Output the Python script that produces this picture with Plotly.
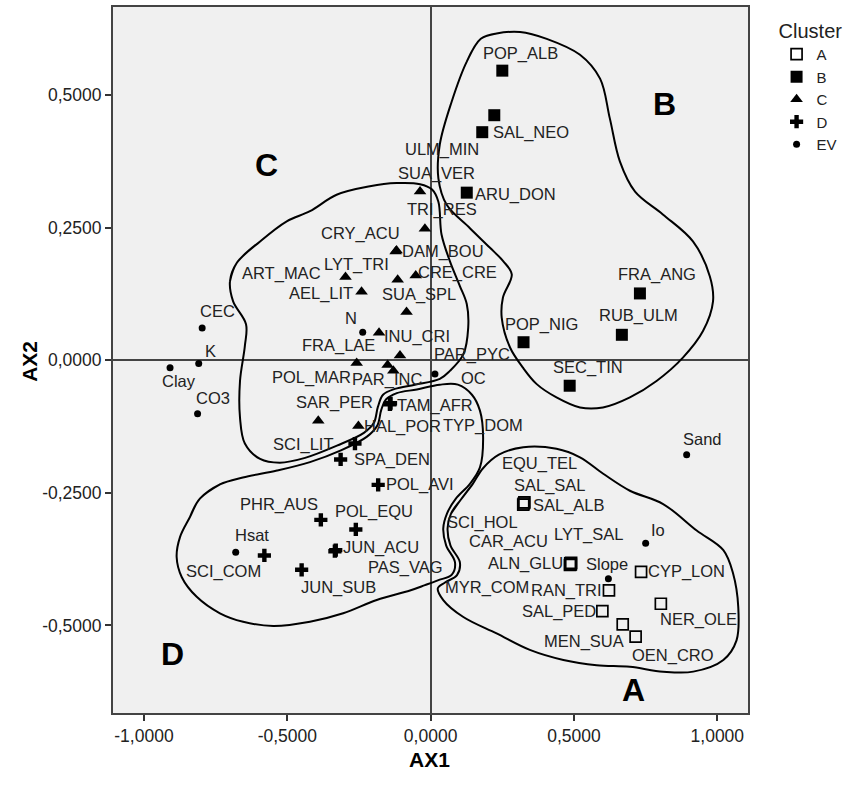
import plotly.graph_objects as go

# ---------------- data ----------------
species = ["POP_ALB", "ULM_MIN", "SAL_NEO", "ARU_DON", "FRA_ANG", "RUB_ULM", "POP_NIG", "SEC_TIN",
           "SUA_VER", "TRI_RES", "CRY_ACU", "DAM_BOU", "ART_MAC", "LYT_TRI", "CRE_CRE", "AEL_LIT",
           "SUA_SPL", "INU_CRI", "PAR_PYC", "FRA_LAE", "POL_MAR", "PAR_INC", "SAR_PER", "HAL_POR",
           "TAM_AFR", "TYP_DOM", "SCI_LIT", "SPA_DEN", "POL_AVI", "PHR_AUS", "POL_EQU", "JUN_ACU",
           "PAS_VAG", "SCI_COM", "JUN_SUB",
           "SAL_ALB", "EQU_TEL", "SAL_SAL", "ALN_GLU", "CAR_ACU", "LYT_SAL", "SCI_HOL", "MYR_COM",
           "CYP_LON", "RAN_TRI", "NER_OLE", "SAL_PED", "MEN_SUA", "OEN_CRO",
           "CEC", "K", "Clay", "CO3", "N", "OC", "Sand", "Io", "Slope", "Hsat"]

ax1 = [0.250, 0.222, 0.180, 0.126, 0.730, 0.667, 0.324, 0.485,
       -0.037, -0.020, -0.122, -0.119, -0.297, -0.115, -0.052, -0.241,
       -0.084, -0.180, -0.107, -0.258, -0.150, -0.130, -0.392, -0.252,
       -0.142, -0.140, -0.264, -0.314, -0.183, -0.383, -0.261, -0.334,
       -0.331, -0.580, -0.450,
       0.325, 0.327, 0.323, 0.488, 0.490, 0.486, 0.489, 0.487,
       0.734, 0.622, 0.803, 0.599, 0.670, 0.715,
       -0.797, -0.809, -0.909, -0.813, -0.237, 0.015, 0.893, 0.750, 0.620, -0.680]

ax2 = [0.546, 0.462, 0.430, 0.316, 0.126, 0.048, 0.034, -0.048,
       0.318, 0.248, 0.205, 0.207, 0.157, 0.152, 0.160, 0.129,
       0.091, 0.052, 0.009, -0.005, -0.009, -0.020, -0.114, -0.124,
       -0.083, -0.081, -0.157, -0.187, -0.235, -0.301, -0.319, -0.360,
       -0.358, -0.368, -0.395,
       -0.270, -0.268, -0.272, -0.384, -0.382, -0.386, -0.385, -0.383,
       -0.399, -0.434, -0.459, -0.473, -0.498, -0.521,
       0.061, -0.006, -0.014, -0.101, 0.053, -0.026, -0.178, -0.345, -0.412, -0.362]

cluster = (["B"] * 8) + (["C"] * 16) + (["D"] * 11) + (["A"] * 14) + (["EV"] * 10)

cluster_names = ["A", "B", "C", "D", "EV"]

x_tick_vals = [-1.0, -0.5, 0.0, 0.5, 1.0]
x_tick_text = ["-1,0000", "-0,5000", "0,0000", "0,5000", "1,0000"]
y_tick_vals = [-0.5, -0.25, 0.0, 0.25, 0.5]
y_tick_text = ["-0,5000", "-0,2500", "0,0000", "0,2500", "0,5000"]

# hand-drawn cluster outlines (data units)
outline_A_x = [0.105, 0.147, 0.182, 0.238, 0.323, 0.439, 0.521, 0.602, 0.695, 0.811, 0.928, 1.021, 1.055,
               1.073, 1.067, 1.021, 0.916, 0.811, 0.695, 0.579, 0.463, 0.346, 0.230, 0.114, 0.044, 0.025,
               0.050, 0.092, 0.102, 0.069, 0.059, 0.071]
outline_A_y = [-0.263, -0.233, -0.204, -0.178, -0.164, -0.167, -0.183, -0.214, -0.246, -0.271, -0.321,
               -0.358, -0.402, -0.465, -0.528, -0.565, -0.587, -0.587, -0.578, -0.575, -0.565, -0.546,
               -0.515, -0.484, -0.452, -0.430, -0.419, -0.405, -0.381, -0.349, -0.317, -0.289]
outline_B_x = [0.175, 0.230, 0.312, 0.405, 0.521, 0.591, 0.625, 0.660, 0.713, 0.810, 0.915, 0.974, 0.985,
               0.950, 0.880, 0.788, 0.695, 0.601, 0.521, 0.439, 0.370, 0.322, 0.277, 0.248, 0.252, 0.283,
               0.253, 0.207, 0.137, 0.056, 0.027, 0.032, 0.073, 0.126]
outline_B_y = [0.606, 0.616, 0.619, 0.606, 0.576, 0.531, 0.456, 0.375, 0.318, 0.275, 0.224, 0.158, 0.111,
               0.055, 0.005, -0.039, -0.070, -0.089, -0.089, -0.070, -0.045, -0.014, 0.024, 0.080, 0.118,
               0.162, 0.187, 0.212, 0.249, 0.293, 0.343, 0.407, 0.487, 0.563]
outline_C_x = [-0.677, -0.595, -0.502, -0.421, -0.328, -0.212, -0.119, -0.037, 0.005, 0.027, 0.038, 0.067,
               0.102, 0.126, 0.131, 0.114, 0.067, 0.032, -0.055, -0.125, -0.166, -0.184, -0.198, -0.233,
               -0.327, -0.438, -0.526, -0.595, -0.648, -0.665, -0.665, -0.648, -0.644, -0.689, -0.700]
outline_C_y = [0.183, 0.224, 0.262, 0.281, 0.312, 0.328, 0.334, 0.332, 0.322, 0.299, 0.237, 0.187, 0.140,
               0.106, 0.061, 0.011, -0.020, -0.035, -0.046, -0.054, -0.065, -0.088, -0.118, -0.137, -0.161,
               -0.184, -0.193, -0.186, -0.157, -0.108, -0.039, 0.027, 0.068, 0.111, 0.149]
outline_D_x = [-0.805, -0.735, -0.655, -0.536, -0.421, -0.313, -0.222, -0.186, -0.172, -0.156, -0.118,
               -0.048, 0.032, 0.095, 0.144, 0.172, 0.183, 0.172, 0.137, 0.088, 0.057, 0.044, 0.054, 0.085,
               0.074, 0.025, -0.020, -0.072, -0.188, -0.305, -0.421, -0.549, -0.654, -0.735, -0.816,
               -0.868, -0.886, -0.874, -0.840]
outline_D_y = [-0.261, -0.234, -0.221, -0.208, -0.192, -0.170, -0.144, -0.123, -0.093, -0.074, -0.062,
               -0.055, -0.046, -0.046, -0.065, -0.095, -0.145, -0.202, -0.233, -0.261, -0.289, -0.317,
               -0.349, -0.381, -0.404, -0.415, -0.424, -0.434, -0.452, -0.477, -0.493, -0.501, -0.493,
               -0.477, -0.446, -0.409, -0.371, -0.333, -0.296]

region_letters = ["A", "B", "C", "D"]
region_x = [0.706, 0.817, -0.572, -0.899]
region_y = [-0.622, 0.484, 0.368, -0.554]

# ---------------- styles ----------------
# label offsets from each point, in screen pixels (right, down)
label_dx = [17.7, -51.8, 48.7, 49, 17.5, 17, 18, 18.6,
            16.7, 17.5, -34.7, 46.7, -64, -41, 42.2, -40.8, 12.4, 37.6, 72, -17.7, -76, -5.9, 16.7, 44,
            45, 92, -51.7, 51.8, 41.8, -42, 18.4, 46.4, 70, -41, 37.3,
            45, 15.5, 26.7, -44.8, -63, 19, -88.4, -82.8, 45, -42.3, 38, -43.4, -38.8, 37.6,
            15.3, 12.2, 8.9, 15.7, -11.8, 39, 16, 12.3, -1, 16]
label_dy = [-17.3, 34.2, 0, 2, -19, -19, -17.7, -18,
            -18.3, -19, -17.7, 0.8, -3.3, -15, -2.5, 1.8, -17.6, 3.4, -0.5, -17, 12.6, 9, -18.3, 0.5,
            1.5, 22.6, 0.5, 0, 0, -15.4, -18, -3.3, 17, 16, 18,
            2, -38.6, -19, 0, -21, -31, -41.6, 23.6, 0, 0, 15.5, 0.7, 16.8, 18.5,
            -16.8, -12.5, 13.3, -16.3, -14.4, 4.4, -15.7, -12.8, -15.2, -16.9]

marker_styles = {
    "A": dict(symbol="square-open", size=11, color="black", line=dict(width=1.7, color="black")),
    "B": dict(symbol="square", size=12, color="black", line=dict(width=0)),
    "C": dict(symbol="triangle-up", size=11, color="black", line=dict(width=0)),
    "D": dict(symbol="cross", size=11, color="black", line=dict(width=0)),
    "EV": dict(symbol="circle", size=7, color="black", line=dict(width=0)),
}

FONT = "Liberation Sans, Arial, sans-serif"

fig = go.Figure()


def closed(xs, ys):
    return [xs[-1]] + xs + xs[:2], [ys[-1]] + ys + ys[:2]


for ox, oy in [(outline_A_x, outline_A_y), (outline_B_x, outline_B_y),
               (outline_C_x, outline_C_y), (outline_D_x, outline_D_y)]:
    cx, cy = closed(ox, oy)
    fig.add_trace(go.Scatter(x=cx, y=cy, mode="lines",
                             line=dict(color="black", width=2, shape="spline", smoothing=1.0),
                             showlegend=False, hoverinfo="skip"))

for cname in cluster_names:
    xs = [ax1[i] for i in range(len(species)) if cluster[i] == cname]
    ys = [ax2[i] for i in range(len(species)) if cluster[i] == cname]
    tx = [species[i] for i in range(len(species)) if cluster[i] == cname]
    fig.add_trace(go.Scatter(x=xs, y=ys, mode="markers", name=cname, text=tx,
                             marker=marker_styles[cname]))

annotations = []
for i, name in enumerate(species):
    annotations.append(dict(x=ax1[i], y=ax2[i], xref="x", yref="y", text=name, showarrow=False,
                            xshift=label_dx[i], yshift=-label_dy[i], xanchor="center", yanchor="middle",
                            font=dict(family=FONT, size=16.5, color="#222222")))
for letter, lx, ly in zip(region_letters, region_x, region_y):
    annotations.append(dict(x=lx, y=ly, xref="x", yref="y", text="<b>%s</b>" % letter, showarrow=False,
                            xanchor="center", yanchor="middle",
                            font=dict(family=FONT, size=32, color="black")))
annotations.append(dict(x=0.499, y=-0.066, xref="paper", yref="paper", text="<b>AX1</b>", showarrow=False,
                        xanchor="center", yanchor="middle", font=dict(family=FONT, size=21, color="black")))
annotations.append(dict(x=-0.131, y=0.4986, xref="paper", yref="paper", text="<b>AX2</b>", showarrow=False,
                        textangle=-90, xanchor="center", yanchor="middle",
                        font=dict(family=FONT, size=21, color="black")))

fig.update_layout(
    width=850, height=785,
    margin=dict(l=113, r=102, t=5, b=72),
    paper_bgcolor="white",
    plot_bgcolor="#f0f0f0",
    font=dict(family=FONT, color="#222222"),
    annotations=annotations,
    legend=dict(title=dict(text="Cluster", font=dict(family=FONT, size=20, color="#222222")),
                font=dict(family=FONT, size=15, color="#222222"),
                x=1.045, y=0.993, xanchor="left", yanchor="top",
                bgcolor="rgba(0,0,0,0)", tracegroupgap=0),
    showlegend=True,
)
fig.update_xaxes(range=[-1.108, 1.107], tickvals=x_tick_vals, ticktext=x_tick_text,
                 ticks="outside", ticklen=6, tickwidth=1.5, tickcolor="#333333",
                 tickfont=dict(family=FONT, size=17.5, color="#222222"),
                 showgrid=False, zeroline=True, zerolinecolor="#444444", zerolinewidth=1.5,
                 showline=True, mirror=True, linecolor="#444444", linewidth=2)
fig.update_yaxes(range=[-0.665, 0.666], tickvals=y_tick_vals, ticktext=y_tick_text,
                 ticks="outside", ticklen=6, tickwidth=1.5, tickcolor="#333333",
                 tickfont=dict(family=FONT, size=17.5, color="#222222"),
                 showgrid=False, zeroline=True, zerolinecolor="#444444", zerolinewidth=1.5,
                 showline=True, mirror=True, linecolor="#444444", linewidth=2)

fig.write_html("out.html", config={"displayModeBar": False},
               post_script="document.body.style.margin='0px';")
